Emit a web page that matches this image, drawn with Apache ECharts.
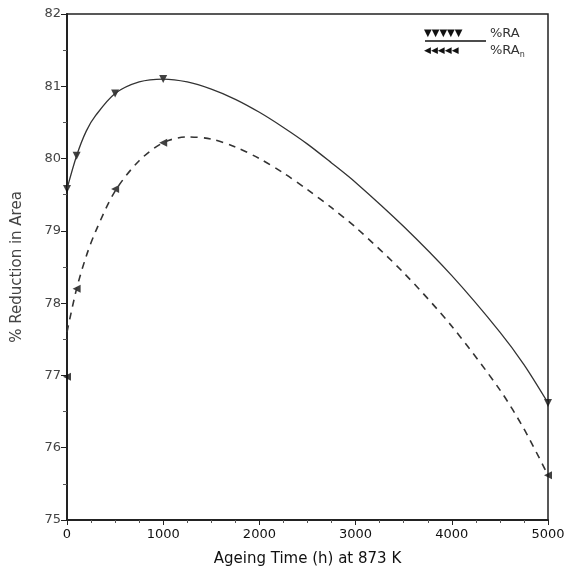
<!DOCTYPE html>
<html>
<head>
<meta charset="UTF-8">
<title>Reduction in Area vs Ageing Time</title>
<script src="https://cdn.jsdelivr.net/npm/echarts@6/dist/echarts.min.js"></script>
<style>
  body { margin: 0; background: #fff; }
  #chart { width: 581px; height: 577px; }
</style>
</head>
<body>
<div id="chart"></div>
<script>
// measured points
var timeRA = [0, 100, 500, 1000, 5000];
var valRA = [79.58, 80.04, 80.9, 81.1, 76.62];
var timeRAn = [0, 100, 500, 1000, 5000];
var valRAn = [76.98, 78.2, 79.58, 80.22, 75.62];

// fitted curves
var curveTimeRA = [0, 100, 200, 300, 500, 750, 1000, 1250, 1500, 1750, 2000, 2250, 2500, 2750, 3000, 3500, 4000, 4500, 4750, 5000];
var curveRA = [79.58, 80.04, 80.38, 80.6, 80.9, 81.06, 81.1, 81.06, 80.96, 80.82, 80.64, 80.43, 80.2, 79.94, 79.67, 79.06, 78.38, 77.6, 77.15, 76.62];
var curveTimeRAn = [0, 100, 200, 300, 500, 750, 1000, 1250, 1500, 1750, 2000, 2250, 2500, 2750, 3000, 3500, 4000, 4500, 4750, 5000];
var curveRAn = [77.6, 78.2, 78.65, 79.0, 79.55, 79.97, 80.22, 80.3, 80.27, 80.16, 80.0, 79.8, 79.57, 79.32, 79.05, 78.42, 77.68, 76.8, 76.26, 75.62];

var xTicks = [0, 1000, 2000, 3000, 4000, 5000];
var yTicks = [75, 76, 77, 78, 79, 80, 81, 82];

function pairs(xs, ys) {
  return xs.map(function (x, i) { return [x, ys[i]]; });
}

var chart = echarts.init(document.getElementById('chart'));
var axisCol = '#222';
var labelCol = '#444';

chart.setOption({
  backgroundColor: '#fff',
  animation: false,
  grid: { left: 67, right: 33, top: 14, bottom: 57, show: true, borderColor: axisCol, borderWidth: 1.5 },
  xAxis: {
    type: 'value', min: 0, max: 5000, interval: 1000,
    axisLine: { lineStyle: { color: axisCol, width: 2 } },
    axisTick: { length: 5, lineStyle: { color: axisCol } },
    minorTick: { show: true, splitNumber: 4, length: 3, lineStyle: { color: '#555' } },
    splitLine: { show: false },
    axisLabel: { color: '#111', fontFamily: 'DejaVu Sans', fontSize: 13, margin: 8,
      formatter: function (v) { return xTicks.indexOf(v) >= 0 ? String(v) : ''; } },
    name: 'Ageing Time (h) at 873 K', nameLocation: 'middle', nameGap: 32,
    nameTextStyle: { color: '#111', fontFamily: 'DejaVu Sans', fontSize: 15 }
  },
  yAxis: {
    type: 'value', min: 75, max: 82, interval: 1,
    axisLine: { lineStyle: { color: axisCol, width: 2 } },
    axisTick: { length: 6, lineStyle: { color: axisCol } },
    minorTick: { show: true, splitNumber: 2, length: 4, lineStyle: { color: '#555' } },
    splitLine: { show: false },
    axisLabel: { color: labelCol, fontFamily: 'DejaVu Sans', fontSize: 13, margin: 6,
      formatter: function (v) { return yTicks.indexOf(v) >= 0 ? String(v) : ''; } },
    name: '% Reduction in Area', nameLocation: 'middle', nameGap: 42,
    nameTextStyle: { color: labelCol, fontFamily: 'DejaVu Sans', fontSize: 15 }
  },
  graphic: [
    { type: 'text', left: 424, top: 28, style: { text: '▼▼▼▼▼', fontSize: 10, fill: '#111', fontFamily: 'DejaVu Sans' } },
    { type: 'line', shape: { x1: 425, y1: 41, x2: 486, y2: 41 }, style: { stroke: '#111', lineWidth: 1.3 } },
    { type: 'text', left: 490, top: 27, style: { text: '%RA', fontSize: 13, fill: '#333', fontFamily: 'DejaVu Sans' } },
    { type: 'text', left: 424, top: 46, style: { text: '◀◀◀◀◀', fontSize: 9, fill: '#111', fontFamily: 'DejaVu Sans' } },
    { type: 'text', left: 490, top: 44, style: {
      rich: { a: { fontSize: 13, fill: '#333', fontFamily: 'DejaVu Sans' }, s: { fontSize: 8, fill: '#333', fontFamily: 'DejaVu Sans', padding: [8, 0, 0, 0] } },
      text: '{a|%RA}{s|n}' } }
  ],
  series: [
    { type: 'line', data: pairs(curveTimeRA, curveRA), smooth: 0.3, showSymbol: false, silent: true,
      lineStyle: { color: '#333', width: 1.3 } },
    { type: 'line', data: pairs(curveTimeRAn, curveRAn), smooth: 0.3, showSymbol: false, silent: true,
      lineStyle: { color: '#333', width: 1.6, type: [7, 6] } },
    { type: 'scatter', data: pairs(timeRA, valRA), symbol: 'triangle', symbolRotate: 180, symbolSize: 8,
      itemStyle: { color: '#111' } },
    { type: 'scatter', data: pairs(timeRAn, valRAn), symbol: 'triangle', symbolRotate: 90, symbolSize: 8,
      itemStyle: { color: '#111' } }
  ]
});
</script>
</body>
</html>
